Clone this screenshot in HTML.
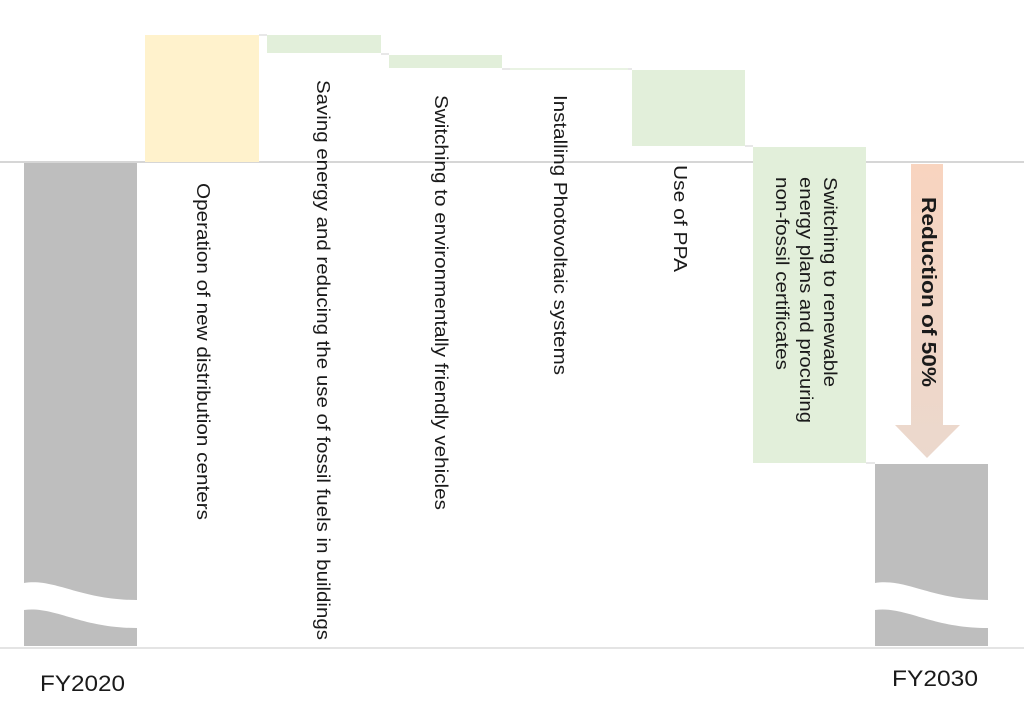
<!DOCTYPE html>
<html><head><meta charset="utf-8"><style>
html,body{margin:0;padding:0;background:#fff;}
svg{display:block;}
text{font-family:"Liberation Sans",Arial,sans-serif;fill:#1a1a1a;}
</style></head><body>
<svg width="1024" height="712" viewBox="0 0 1024 712" xmlns="http://www.w3.org/2000/svg">
<defs>
<linearGradient id="ag" x1="0" y1="0" x2="0" y2="1">
<stop offset="0" stop-color="#f8d4bf"/><stop offset="1" stop-color="#ebd8cd"/>
</linearGradient>
</defs>
<line x1="0" y1="162" x2="1024" y2="162" stroke="#c8c8c8" stroke-width="1.5"/>
<line x1="0" y1="648" x2="1024" y2="648" stroke="#dcdcdc" stroke-width="1.5"/>
<rect x="24" y="163" width="113" height="483" fill="#bebebe"/>
<path d="M24,583 C55,578 80,600 137,600 L137,628 C80,628 55,606 24,610 Z" fill="#fff"/>
<rect x="145" y="35" width="114" height="127" fill="#fff2cc"/>
<rect x="267" y="35" width="114" height="18" fill="#e2efda"/>
<rect x="389" y="55" width="113" height="13" fill="#e2efda"/>
<line x1="510" y1="69" x2="628" y2="69" stroke="#e2efda" stroke-width="1.5"/>
<rect x="632" y="70" width="113" height="76" fill="#e2efda"/>
<rect x="753" y="147" width="113" height="316" fill="#e2efda"/>
<g stroke="#d0d0d0" stroke-width="1">
<line x1="259" y1="35" x2="267" y2="35"/><line x1="381" y1="54" x2="389" y2="54"/>
<line x1="502" y1="69" x2="510" y2="69"/><line x1="628" y1="69" x2="632" y2="69"/>
<line x1="745" y1="146" x2="753" y2="146"/><line x1="866" y1="463" x2="875" y2="463"/>
</g>
<path d="M911,164 H943 V425 H960 L927,458 L895,425 H911 Z" fill="url(#ag)"/>
<rect x="875" y="464" width="113" height="182" fill="#bebebe"/>
<path d="M875,583 C906,578 931,600 988,600 L988,628 C931,628 906,606 875,610 Z" fill="#fff"/>
<g font-size="18" dominant-baseline="central" lengthAdjust="spacingAndGlyphs">
<text transform="translate(203,183) rotate(90)" textLength="337" lengthAdjust="spacingAndGlyphs">Operation of new distribution centers</text>
<text transform="translate(323,80) rotate(90)" textLength="560" lengthAdjust="spacingAndGlyphs">Saving energy and reducing the use of fossil fuels in buildings</text>
<text transform="translate(441,95) rotate(90)" textLength="415" lengthAdjust="spacingAndGlyphs">Switching to environmentally friendly vehicles</text>
<text transform="translate(560,95) rotate(90)" textLength="280" lengthAdjust="spacingAndGlyphs">Installing Photovoltaic systems</text>
<text transform="translate(680,165) rotate(90)" textLength="107" lengthAdjust="spacingAndGlyphs">Use of PPA</text>
<text transform="translate(830,177) rotate(90)" textLength="210" lengthAdjust="spacingAndGlyphs">Switching to renewable</text>
<text transform="translate(806,177) rotate(90)" textLength="246" lengthAdjust="spacingAndGlyphs">energy plans and procuring</text>
<text transform="translate(782,177) rotate(90)" textLength="193" lengthAdjust="spacingAndGlyphs">non-fossil certificates</text>
<text transform="translate(928,197) rotate(90)" font-weight="bold" font-size="20" textLength="190" lengthAdjust="spacingAndGlyphs">Reduction of 50%</text>
</g>
<text x="40" y="691" font-size="22" textLength="85" lengthAdjust="spacingAndGlyphs">FY2020</text>
<text x="892" y="686" font-size="22" textLength="86" lengthAdjust="spacingAndGlyphs">FY2030</text>
</svg>
</body></html>
